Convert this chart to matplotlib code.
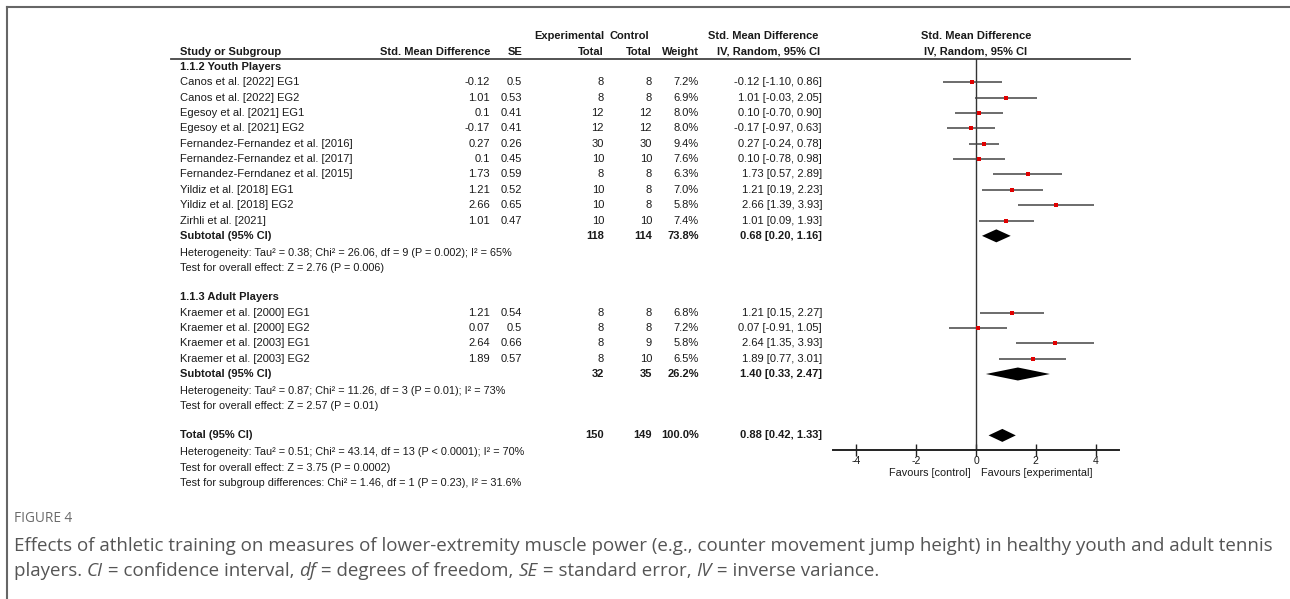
import matplotlib
matplotlib.use("Agg")
import matplotlib.pyplot as plt
from matplotlib.patches import Polygon

plt.rcParams['axes.unicode_minus'] = False

#### DATA ####
youth_studies = ["Canos et al. [2022] EG1", "Canos et al. [2022] EG2",
                 "Egesoy et al. [2021] EG1", "Egesoy et al. [2021] EG2",
                 "Fernandez-Fernandez et al. [2016]", "Fernandez-Fernandez et al. [2017]",
                 "Fernandez-Ferndanez et al. [2015]", "Yildiz et al. [2018] EG1",
                 "Yildiz et al. [2018] EG2", "Zirhli et al. [2021]"]
youth_smd = [-0.12, 1.01, 0.1, -0.17, 0.27, 0.1, 1.73, 1.21, 2.66, 1.01]
youth_se = [0.5, 0.53, 0.41, 0.41, 0.26, 0.45, 0.59, 0.52, 0.65, 0.47]
youth_exp_n = [8, 8, 12, 12, 30, 10, 8, 10, 10, 10]
youth_ctrl_n = [8, 8, 12, 12, 30, 10, 8, 8, 8, 10]
youth_weight = [7.2, 6.9, 8.0, 8.0, 9.4, 7.6, 6.3, 7.0, 5.8, 7.4]
youth_ci_lo = [-1.10, -0.03, -0.70, -0.97, -0.24, -0.78, 0.57, 0.19, 1.39, 0.09]
youth_ci_hi = [0.86, 2.05, 0.90, 0.63, 0.78, 0.98, 2.89, 2.23, 3.93, 1.93]

adult_studies = ["Kraemer et al. [2000] EG1", "Kraemer et al. [2000] EG2",
                 "Kraemer et al. [2003] EG1", "Kraemer et al. [2003] EG2"]
adult_smd = [1.21, 0.07, 2.64, 1.89]
adult_se = [0.54, 0.5, 0.66, 0.57]
adult_exp_n = [8, 8, 8, 8]
adult_ctrl_n = [8, 8, 9, 10]
adult_weight = [6.8, 7.2, 5.8, 6.5]
adult_ci_lo = [0.15, -0.91, 1.35, 0.77]
adult_ci_hi = [2.27, 1.05, 3.93, 3.01]

# pooled estimates: (estimate, lower, upper) and (exp total, ctrl total, weight)
youth_pooled = (0.68, 0.20, 1.16)
youth_totals = (118, 114, 73.8)
adult_pooled = (1.40, 0.33, 2.47)
adult_totals = (32, 35, 26.2)
overall_pooled = (0.88, 0.42, 1.33)
overall_totals = (150, 149, 100.0)

youth_notes = ["Heterogeneity: Tau² = 0.38; Chi² = 26.06, df = 9 (P = 0.002); I² = 65%",
               "Test for overall effect: Z = 2.76 (P = 0.006)"]
adult_notes = ["Heterogeneity: Tau² = 0.87; Chi² = 11.26, df = 3 (P = 0.01); I² = 73%",
               "Test for overall effect: Z = 2.57 (P = 0.01)"]
overall_notes = ["Heterogeneity: Tau² = 0.51; Chi² = 43.14, df = 13 (P < 0.0001); I² = 70%",
                 "Test for overall effect: Z = 3.75 (P = 0.0002)",
                 "Test for subgroup differences: Chi² = 1.46, df = 1 (P = 0.23), I² = 31.6%"]

axis_ticks = [-4, -2, 0, 2, 4]

#### LAYOUT (pixels) ####
W, H = 1290, 599
ROW0, ROWH = 67, 15.35
FONT = ['Liberation Sans', 'DejaVu Sans']
FS = 8
TXT = '#1a1a1a'
COL_NAME, COL_SMD, COL_SE, COL_EXP, COL_CTRL, COL_W, COL_CI = 180, 490, 522, 604, 652, 699, 822
AX_L, AX_R, AX_TOP, AX_BOT = 833, 1119, 59, 450


def row_y(r):
    return ROW0 + r * ROWH


fig = plt.figure(figsize=(W / 100, H / 100), dpi=100)
ax = fig.add_axes([0, 0, 1, 1])
ax.set_xlim(0, W)
ax.set_ylim(H, 0)
ax.axis('off')

fa = fig.add_axes([AX_L / W, 1 - AX_BOT / H, (AX_R - AX_L) / W, (AX_BOT - AX_TOP) / H])
fa.set_xlim(-4.78, 4.78)
fa.set_ylim(AX_BOT, AX_TOP)
fa.patch.set_alpha(0)
for s in ['top', 'left', 'right']:
    fa.spines[s].set_visible(False)
fa.spines['bottom'].set_linewidth(1.4)
fa.spines['bottom'].set_color('#222222')
fa.set_yticks([])
fa.set_xticks(axis_ticks)
fa.set_xticklabels([str(t) for t in axis_ticks], fontsize=7.5, family=FONT, color=TXT)
fa.tick_params(axis='x', direction='inout', length=8, width=1, color='#222222', pad=0)
fa.axvline(0, color='#333333', lw=1)


def txt(x, y, s, ha='left', bold=False, size=FS, color=TXT, **kw):
    ax.text(x, y, s, ha=ha, va='center', fontsize=size, family=FONT,
            fontweight='bold' if bold else 'normal', color=color, **kw)


# frame
ax.plot([7, 7], [7, H], color='#666666', lw=1.5)
ax.plot([7, W], [7, 7], color='#666666', lw=1.5)

# header
txt(COL_EXP, 36, "Experimental", ha='right', bold=True)
txt(609, 36, "Control", bold=True)
txt(COL_CI - 4, 36, "Std. Mean Difference", ha='right', bold=True)
txt(976, 36, "Std. Mean Difference", ha='center', bold=True)
txt(COL_NAME, 52, "Study or Subgroup", bold=True)
txt(COL_SMD, 52, "Std. Mean Difference", ha='right', bold=True)
txt(COL_SE, 52, "SE", ha='right', bold=True)
txt(COL_EXP, 52, "Total", ha='right', bold=True)
txt(COL_CTRL, 52, "Total", ha='right', bold=True)
txt(COL_W, 52, "Weight", ha='right', bold=True)
txt(COL_CI - 2, 52, "IV, Random, 95% CI", ha='right', bold=True)
txt(976, 52, "IV, Random, 95% CI", ha='center', bold=True)
ax.plot([171, 1130], [59, 59], color='#444444', lw=1.3)


def ci_str(e, lo, hi):
    return f"{e:.2f} [{lo:.2f}, {hi:.2f}]"


def draw_group(r, title, studies, smd, se, en, cn, wt, lo, hi, pooled, totals, notes):
    txt(COL_NAME, row_y(r), title, bold=True)
    r += 1
    for i in range(len(studies)):
        y = row_y(r)
        txt(COL_NAME, y, studies[i])
        txt(COL_SMD, y, f"{smd[i]:g}", ha='right')
        txt(COL_SE, y, f"{se[i]:g}", ha='right')
        txt(COL_EXP, y, str(en[i]), ha='right')
        txt(COL_CTRL, y, str(cn[i]), ha='right')
        txt(COL_W, y, f"{wt[i]:.1f}%", ha='right')
        txt(COL_CI, y, ci_str(smd[i], lo[i], hi[i]), ha='right')
        fa.hlines(y, lo[i], hi[i], color='#444444', lw=1.1)
        fa.scatter([smd[i]], [y], marker='s', s=(wt[i] * 0.38) ** 2, color='#e00000', zorder=3, lw=0)
        r += 1
    r = draw_pooled(r, "Subtotal (95% CI)", pooled, totals)
    for n in notes:
        txt(COL_NAME, row_y(r) + 1.5, n, size=7.8)
        r += 1
    return r


def draw_pooled(r, label, pooled, totals):
    y = row_y(r)
    txt(COL_NAME, y, label, bold=True)
    txt(COL_EXP, y, str(totals[0]), ha='right', bold=True)
    txt(COL_CTRL, y, str(totals[1]), ha='right', bold=True)
    txt(COL_W, y, f"{totals[2]:.1f}%", ha='right', bold=True)
    txt(COL_CI, y, ci_str(*pooled), ha='right', bold=True)
    e, lo, hi = pooled
    fa.add_patch(Polygon([(lo, y), (e, y - 6.5), (hi, y), (e, y + 6.5)],
                         closed=True, color='black', lw=0, zorder=3))
    return r + 1


r = draw_group(0, "1.1.2 Youth Players", youth_studies, youth_smd, youth_se, youth_exp_n,
               youth_ctrl_n, youth_weight, youth_ci_lo, youth_ci_hi, youth_pooled,
               youth_totals, youth_notes)
r = draw_group(r + 1, "1.1.3 Adult Players", adult_studies, adult_smd, adult_se, adult_exp_n,
               adult_ctrl_n, adult_weight, adult_ci_lo, adult_ci_hi, adult_pooled,
               adult_totals, adult_notes)
r = draw_pooled(r + 1, "Total (95% CI)", overall_pooled, overall_totals)
for n in overall_notes:
    txt(COL_NAME, row_y(r) + 1.5, n, size=7.8)
    r += 1

# favours labels
txt(971, 473, "Favours [control]", ha='right', size=7.8)
txt(981, 473, "Favours [experimental]", size=7.8)

# caption
CAP = ['Open Sans', 'DejaVu Sans']
CAP_X, CAP_FS = 14, 13.5
ax.text(CAP_X, 518, "FIGURE 4", ha='left', va='center', fontsize=9.8, family=CAP, color='#6a6a6a')
ax.text(CAP_X, 546, "Effects of athletic training on measures of lower-extremity muscle power "
        "(e.g., counter movement jump height) in healthy youth and adult tennis",
        ha='left', va='center', fontsize=CAP_FS, family=CAP, color='#555555')

fig.canvas.draw()
renderer = fig.canvas.get_renderer()
pieces = [("players. ", 'normal'), ("CI", 'italic'), (" = confidence interval, ", 'normal'),
          ("df", 'italic'), (" = degrees of freedom, ", 'normal'), ("SE", 'italic'),
          (" = standard error, ", 'normal'), ("IV", 'italic'), (" = inverse variance.", 'normal')]
x = CAP_X
for s, st in pieces:
    t = ax.text(x, 571, s, ha='left', va='center', fontsize=CAP_FS, family=CAP,
                style=st, color='#555555')
    x += t.get_window_extent(renderer).width

fig.savefig("out.png", dpi=100)
